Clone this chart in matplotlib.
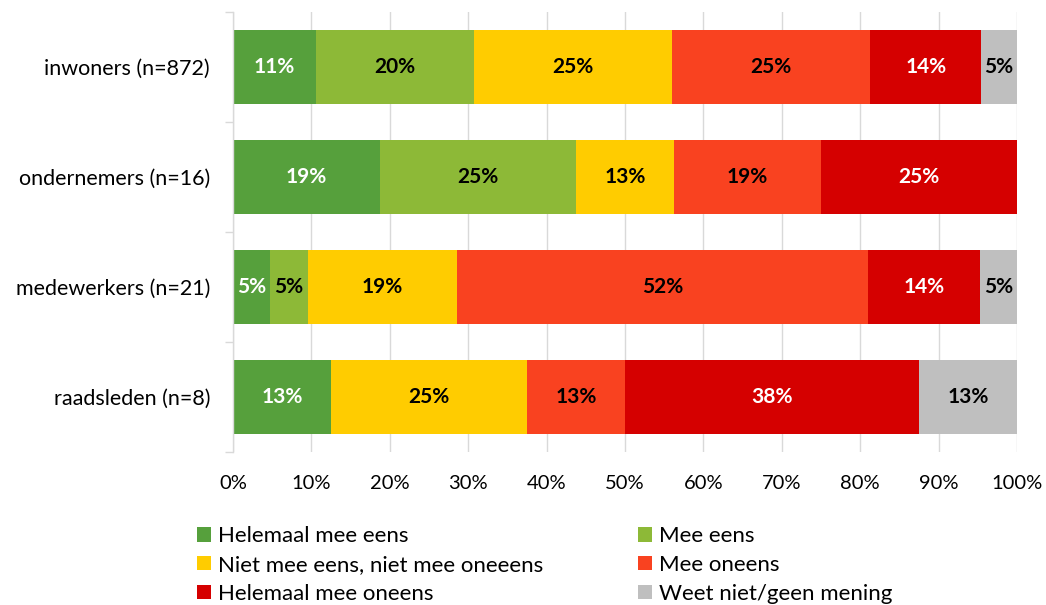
import matplotlib
matplotlib.use("Agg")
import matplotlib.pyplot as plt
from matplotlib.patches import Patch
import numpy as np
import math

plt.rcParams['font.family'] = ['Lato', 'DejaVu Sans']

groups = ["inwoners (n=872)", "ondernemers (n=16)", "medewerkers (n=21)", "raadsleden (n=8)"]
answers = ["Helemaal mee eens", "Mee eens", "Niet mee eens, niet mee oneeens",
           "Mee oneens", "Helemaal mee oneens", "Weet niet/geen mening"]

# percentages per answer, one value per group
helemaal_eens = [10.55, 18.75, 4.76, 12.5]
mee_eens = [20.18, 25.0, 4.76, 0.0]
neutraal = [25.23, 12.5, 19.05, 25.0]
mee_oneens = [25.34, 18.75, 52.38, 12.5]
helemaal_oneens = [14.11, 25.0, 14.29, 37.5]
weet_niet = [4.59, 0.0, 4.76, 12.5]

series = [helemaal_eens, mee_eens, neutraal, mee_oneens, helemaal_oneens, weet_niet]
colors = ["#56A03C", "#8DB937", "#FFCC00", "#F94220", "#D50000", "#BFBFBF"]
text_colors = ["white", "black", "black", "black", "white", "black"]

xticks = [0, 10, 20, 30, 40, 50, 60, 70, 80, 90, 100]


def pct_label(v):
    # round half up, like spreadsheet percentage formatting
    return f"{int(math.floor(v + 0.5))}%"


fig = plt.figure(figsize=(10.46, 6.05), dpi=100)
ax = fig.add_axes([233 / 1046, 1 - 452 / 605, 784 / 1046, 440 / 605])

y = np.arange(len(groups))
left = np.zeros(len(groups))
handles = []
for vals, col, tcol, name in zip(series, colors, text_colors, answers):
    vals = np.array(vals)
    ax.barh(y, vals, left=left, height=0.673, color=col, edgecolor="none", zorder=2)
    for yi, (l, v) in enumerate(zip(left, vals)):
        if v > 0:
            ax.text(l + v / 2, yi, pct_label(v), ha="center", va="center",
                    color=tcol, fontsize=15, fontweight="bold", zorder=3)
    handles.append(Patch(facecolor=col, edgecolor="none", label=name))
    left = left + vals

ax.set_xlim(0, 100)
ax.set_ylim(3.5, -0.5)
ax.set_xticks(xticks)
ax.set_xticklabels([f"{t}%" for t in xticks], fontsize=14.5)
ax.set_yticks(y)
ax.set_yticklabels(groups, fontsize=15.5)
ax.set_yticks([-0.5, 0.5, 1.5, 2.5, 3.5], minor=True)
ax.tick_params(axis="y", which="major", length=0, pad=16.5)
ax.tick_params(axis="y", which="minor", length=6, color="#D9D9D9", width=1)
ax.tick_params(axis="x", length=0, pad=16.5)
ax.grid(axis="x", color="#D9D9D9", linewidth=1, zorder=0)
ax.set_axisbelow(True)
for s in ["top", "right", "bottom"]:
    ax.spines[s].set_visible(False)
ax.spines["left"].set_color("#D9D9D9")
ax.spines["left"].set_linewidth(1)

# two legend columns, three rows each
legend_kw = dict(loc="center left", frameon=False, fontsize=16,
                 handlelength=0.63, handleheight=0.63, handletextpad=0.32,
                 labelspacing=0.39, borderaxespad=0, borderpad=0)
for cols, x0 in (([0, 2, 4], 197), ([1, 3, 5], 638)):
    fig.legend([handles[i] for i in cols], [answers[i] for i in cols],
               bbox_to_anchor=(x0 / 1046, 1 - 565 / 605), **legend_kw)

fig.savefig("out.png", dpi=100)
